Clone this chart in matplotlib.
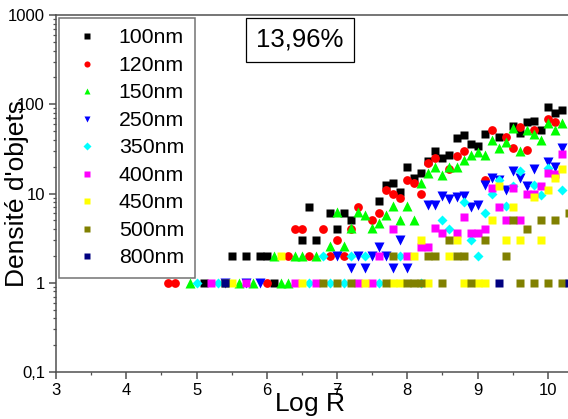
import matplotlib
matplotlib.use("Agg")
import matplotlib.pyplot as plt
from matplotlib.ticker import LogLocator, FuncFormatter, MultipleLocator, NullFormatter

plt.rcParams.update({
    "font.family": ["Liberation Sans", "DejaVu Sans"],
    "mathtext.fontset": "custom",
    "mathtext.rm": "Liberation Sans",
    "mathtext.it": "Liberation Sans:italic",
    "axes.linewidth": 1.1,
    "axes.edgecolor": "#505050",
})

# ------------------------------------------------------------- data
x_100 = [5.1, 6.1, 5.5, 5.7, 5.9, 6.0, 6.5, 6.6, 6.7, 6.9, 7.0, 7.1, 7.2, 7.6, 7.7, 7.8,
         7.9, 8.0, 8.1, 8.2, 8.3, 8.4, 8.5, 8.6, 8.7, 8.8, 8.9, 9.0, 9.1, 9.3, 9.5, 9.6,
         9.7, 9.8, 9.9, 10.0, 10.1, 10.2]
y_100 = [1, 1, 2, 2, 2, 2, 3, 7, 3, 6, 4, 6, 5, 8.2, 12.4, 13, 10.3, 20, 15, 17, 23, 30, 25,
         27, 42, 45, 36, 34, 47, 43, 57, 48, 63, 65, 52, 94, 79, 86]

x_120 = [4.6, 4.7, 6.0, 6.3, 6.6, 6.9, 7.1, 6.4, 6.5, 6.8, 7.0, 7.2, 7.3, 7.5, 7.6, 7.7,
         7.8, 7.9, 8.0, 8.1, 8.2, 8.3, 8.4, 8.6, 8.7, 8.8, 9.1, 9.2, 9.4, 9.5, 9.6, 9.7,
         9.8, 10.0, 10.1]
y_120 = [1, 1, 1, 2, 2, 2, 2, 4, 4, 4, 3, 4, 7, 5, 6, 11, 10, 9, 14, 13, 10, 22, 25, 19, 26,
         30, 14, 52, 43, 32, 55, 31, 52, 68, 64]

x_150 = [4.9, 5.6, 5.8, 6.2, 6.3, 6.1, 6.4, 6.5, 6.7, 6.9, 7.1, 7.0, 7.2, 7.3, 7.4, 7.5,
         7.6, 7.7, 7.8, 7.9, 8.0, 8.1, 8.2, 8.3, 8.4, 8.5, 8.6, 8.7, 8.8, 8.9, 9.0, 9.1,
         9.2, 9.3, 9.4, 9.5, 9.6, 9.7, 9.8, 9.9, 10.0, 10.1, 10.2]
y_150 = [1, 1, 1, 1, 1, 2, 2, 2, 2, 2.56, 2.56, 6.2, 4.1, 6.2, 5.7, 4.1, 4.7, 5.7, 7.3,
         5.1, 7.3, 5.1, 13, 17, 20, 16, 20, 20, 24, 27, 29, 27, 40, 32, 38, 54, 30, 51, 47,
         40, 62, 52, 62]

x_250 = [5.4, 5.7, 5.9, 7.0, 7.3, 7.5, 7.7, 7.2, 7.4, 7.8, 8.0, 7.6, 7.9, 8.3, 8.4, 8.5,
         8.6, 8.7, 8.8, 8.9, 9.0, 9.1, 9.2, 9.3, 9.4, 9.5, 9.6, 9.7, 9.8, 10.0, 10.1, 10.2]
y_250 = [1, 1, 1, 2, 2, 2, 2, 1.46, 1.46, 1.46, 1.46, 2.5, 3, 7.5, 7.5, 9.4, 8.7, 9.2, 9.4,
         7.1, 7.5, 12.4, 15, 14, 11, 17.8, 15, 12, 18.6, 22.5, 20, 32]

x_350 = [5.0, 5.3, 6.6, 6.9, 7.1, 7.6, 8.2, 6.8, 7.2, 7.4, 7.9, 8.5, 8.6, 8.8, 8.9, 9.0,
         9.1, 9.2, 9.3, 9.4, 9.5, 9.6, 9.8, 9.9, 10.0, 10.2]
y_350 = [1, 1, 1, 1, 1, 1, 1, 2, 2, 2, 2, 5.1, 4.0, 8, 3, 2, 6.1, 10, 14, 7.2, 12, 17.8,
         12.6, 9.5, 19.5, 11]

x_400 = [5.2, 5.7, 6.4, 6.7, 7.3, 7.5, 7.6, 8.0, 7.8, 8.2, 8.3, 8.4, 8.5, 8.7, 8.8, 8.9,
         9.0, 9.1, 9.2, 9.3, 9.4, 9.5, 9.6, 9.7, 9.8, 9.9, 10.0, 10.1, 10.2]
y_400 = [1, 1, 1, 1, 1, 1, 2, 2, 4, 2.5, 2.5, 4.1, 3.6, 3.6, 5.5, 3.6, 3.6, 4, 11.5, 7.1,
         5, 11.5, 5, 10, 10, 12, 16.8, 16.4, 28]

x_450 = [5.5, 6.5, 7.4, 7.8, 7.9, 8.3, 8.8, 9.0, 9.1, 6.2, 8.1, 8.6, 8.2, 8.7, 9.2, 9.3,
         9.4, 9.5, 9.6, 9.8, 9.9, 10.0, 10.1, 10.2]
y_450 = [1, 1, 1, 1, 1, 1, 1, 1, 1, 2, 2, 2, 3, 3, 5.1, 12, 3, 7.1, 3, 9.2, 3, 11, 15, 19]

x_500 = [5.4, 6.8, 7.0, 7.2, 7.7, 8.0, 8.1, 8.2, 8.5, 8.9, 9.6, 9.8, 10.0, 10.2, 7.8, 8.3,
         8.4, 8.7, 8.8, 9.4, 8.6, 9.1, 9.5, 9.7, 9.9, 10.1, 10.3]
y_500 = [1, 1, 1, 1, 1, 1, 1, 1, 1, 1, 1, 1, 1, 1, 2, 2, 2, 2, 2, 2, 3, 3, 5, 4, 5, 5, 6]

x_800 = [5.4, 9.3, 10.3]
y_800 = [1, 1, 1]

labels = ["100nm", "120nm", "150nm", "250nm", "350nm", "400nm", "450nm", "500nm", "800nm"]
xs = [x_100, x_120, x_150, x_250, x_350, x_400, x_450, x_500, x_800]
ys = [y_100, y_120, y_150, y_250, y_350, y_400, y_450, y_500, y_800]

# ------------------------------------------------------------- style
STYLES = [
    ("s", "#000000", 5.7),
    ("o", "#ff0000", 6.3),
    ("^", "#00ff00", 7.0),
    ("v", "#0000ff", 7.0),
    ("D", "#00ffff", 5.4),
    ("s", "#ff00ff", 5.7),
    ("s", "#ffff00", 5.7),
    ("s", "#808000", 5.7),
    ("s", "#000080", 5.7),
]

fig = plt.figure(figsize=(5.68, 4.19), dpi=100)
ax = fig.add_axes([56 / 568, 47 / 419, 527 / 568, 357 / 419])

for x, y, lab, (mk, col, ms) in zip(xs, ys, labels, STYLES):
    ax.plot(x, y, ls="none", marker=mk, color=col, ms=ms, mec="none", label=lab)

ax.set_yscale("log")
ax.set_xlim(3, 10.5)
ax.set_ylim(0.1, 1000)

ax.xaxis.set_major_locator(MultipleLocator(1))
ax.xaxis.set_minor_locator(MultipleLocator(0.5))
ax.yaxis.set_major_locator(LogLocator(base=10, numticks=10))
ax.yaxis.set_minor_locator(LogLocator(base=10, subs=range(2, 10), numticks=20))
ax.yaxis.set_minor_formatter(NullFormatter())
ax.yaxis.set_major_formatter(FuncFormatter(lambda v, _p: f"{v:g}".replace(".", ",")))

ax.tick_params(which="major", direction="out", length=5, width=1.1, color="#505050",
               labelsize=12, pad=3)
ax.tick_params(which="minor", direction="out", length=2.5, width=0.9, color="#505050")
ax.tick_params(axis="x", top=False)
ax.tick_params(axis="y", right=False)
ax.spines["right"].set_visible(False)

ax.text(-0.074, 0.5, "Densité d'objets", transform=ax.transAxes, rotation=90,
        ha="center", va="center", fontsize=19)
ax.text(0.482, -0.087, r"Log $\bar{\mathrm{R}}$", transform=ax.transAxes,
        ha="center", va="center", fontsize=19)

ax.text(0.463, 0.93, "13,96%", transform=ax.transAxes, ha="center", va="center",
        fontsize=18.5,
        bbox=dict(boxstyle="square,pad=0.4", fc="white", ec="black", lw=0.9))

leg = ax.legend(loc="upper left", bbox_to_anchor=(0.006, 0.992), fontsize=15.3,
                markerscale=0.7, handlelength=1.6, handletextpad=0.7,
                labelspacing=0.4, borderpad=0.5, frameon=True, fancybox=False,
                edgecolor="#505050", borderaxespad=0.0)
leg.get_frame().set_linewidth(1.1)

fig.savefig("out.png", dpi=100)
